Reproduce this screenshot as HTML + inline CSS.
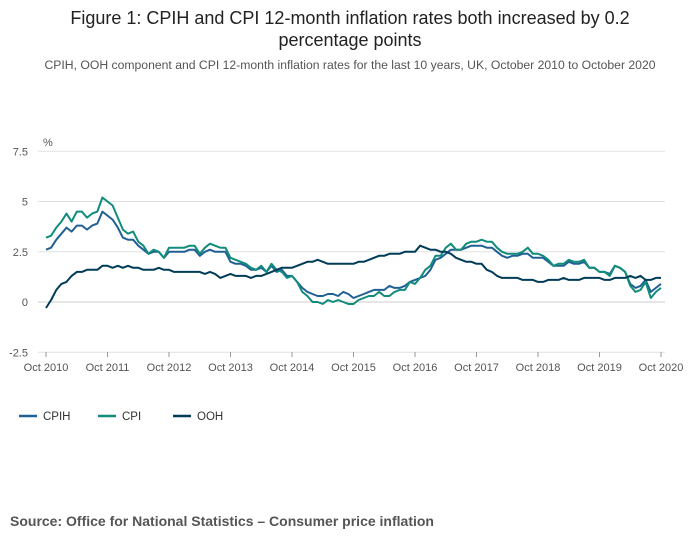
<!DOCTYPE html>
<html><head><meta charset="utf-8"><style>
body{margin:0;background:#fff;font-family:"Liberation Sans",sans-serif;}
svg text{font-family:"Liberation Sans",sans-serif;}
</style></head><body>
<svg width="700" height="549" xmlns="http://www.w3.org/2000/svg">
<text x="350" y="24" text-anchor="middle" font-size="18" fill="#222">Figure 1: CPIH and CPI 12-month inflation rates both increased by 0.2</text>
<text x="350" y="46" text-anchor="middle" font-size="18" fill="#222">percentage points</text>
<text x="350" y="69" text-anchor="middle" font-size="12.2" fill="#555">CPIH, OOH component and CPI 12-month inflation rates for the last 10 years, UK, October 2010 to October 2020</text>
<text x="43" y="146" font-size="11" fill="#555">%</text>
<g id="grid"></g><g id="xax"></g><g id="lines"></g>
<g>
<line x1="19" y1="416" x2="37" y2="416" stroke="#206095" stroke-width="2.5"/>
<text x="43" y="420" font-size="11.5" fill="#333">CPIH</text>
<line x1="98" y1="416" x2="116" y2="416" stroke="#118c7b" stroke-width="2.5"/>
<text x="122" y="420" font-size="11.5" fill="#333">CPI</text>
<line x1="173" y1="416" x2="191" y2="416" stroke="#003c57" stroke-width="2.5"/>
<text x="197" y="420" font-size="11.5" fill="#333">OOH</text>
</g>
<text x="10" y="526" font-size="14" font-weight="bold" fill="#555">Source: Office for National Statistics – Consumer price inflation</text>
</svg>
<script>
const yTicks=[7.5,5,2.5,0,-2.5];
const yTickLabels=["7.5","5","2.5","0","-2.5"];
const xTickLabels=["Oct 2010","Oct 2011","Oct 2012","Oct 2013","Oct 2014","Oct 2015","Oct 2016","Oct 2017","Oct 2018","Oct 2019","Oct 2020"];
const cpih=[2.6,2.7,3.1,3.4,3.7,3.5,3.8,3.8,3.6,3.8,3.9,4.5,4.3,4.1,3.7,3.2,3.1,3.1,2.8,2.6,2.4,2.5,2.5,2.2,2.5,2.5,2.5,2.5,2.6,2.6,2.3,2.5,2.6,2.5,2.5,2.5,2.0,1.9,1.9,1.8,1.6,1.6,1.7,1.5,1.8,1.5,1.6,1.3,1.3,1.0,0.7,0.5,0.4,0.3,0.3,0.4,0.4,0.3,0.5,0.4,0.2,0.3,0.4,0.5,0.6,0.6,0.6,0.8,0.7,0.7,0.8,1.0,1.1,1.2,1.3,1.6,2.1,2.2,2.4,2.6,2.6,2.6,2.7,2.8,2.8,2.8,2.7,2.7,2.5,2.3,2.2,2.3,2.3,2.4,2.4,2.2,2.2,2.2,2.0,1.8,1.8,1.8,2.0,1.9,1.9,2.0,1.7,1.7,1.5,1.5,1.4,1.8,1.7,1.5,0.9,0.7,0.8,1.1,0.5,0.7,0.9];
const cpi=[3.2,3.3,3.7,4.0,4.4,4.0,4.5,4.5,4.2,4.4,4.5,5.2,5.0,4.8,4.2,3.6,3.4,3.5,3.0,2.8,2.4,2.6,2.5,2.2,2.7,2.7,2.7,2.7,2.8,2.8,2.4,2.7,2.9,2.8,2.7,2.7,2.2,2.1,2.0,1.9,1.7,1.6,1.8,1.5,1.9,1.6,1.5,1.2,1.3,1.0,0.5,0.3,0.0,0.0,-0.1,0.1,0.0,0.1,0.0,-0.1,-0.1,0.1,0.2,0.3,0.3,0.5,0.3,0.3,0.5,0.6,0.6,1.0,0.9,1.2,1.6,1.8,2.3,2.3,2.7,2.9,2.6,2.6,2.9,3.0,3.0,3.1,3.0,3.0,2.7,2.5,2.4,2.4,2.4,2.5,2.7,2.4,2.4,2.3,2.1,1.8,1.9,1.9,2.1,2.0,2.0,2.1,1.7,1.7,1.5,1.5,1.3,1.8,1.7,1.5,0.8,0.5,0.6,1.0,0.2,0.5,0.7];
const ooh=[-0.3,0.1,0.6,0.9,1.0,1.3,1.5,1.5,1.6,1.6,1.6,1.8,1.8,1.7,1.8,1.7,1.8,1.7,1.7,1.6,1.6,1.6,1.7,1.6,1.6,1.5,1.5,1.5,1.5,1.5,1.5,1.4,1.5,1.4,1.2,1.3,1.4,1.3,1.3,1.3,1.2,1.3,1.3,1.4,1.5,1.6,1.7,1.7,1.7,1.8,1.9,2.0,2.0,2.1,2.0,1.9,1.9,1.9,1.9,1.9,1.9,2.0,2.0,2.1,2.2,2.3,2.3,2.4,2.4,2.4,2.5,2.5,2.5,2.8,2.7,2.6,2.6,2.5,2.5,2.4,2.2,2.1,2.0,2.0,1.9,1.9,1.6,1.5,1.3,1.2,1.2,1.2,1.2,1.1,1.1,1.1,1.0,1.0,1.1,1.1,1.1,1.2,1.1,1.1,1.1,1.2,1.2,1.2,1.2,1.1,1.1,1.2,1.2,1.2,1.3,1.2,1.3,1.1,1.1,1.2,1.2];
const NS="http://www.w3.org/2000/svg";
const x0=46,x1=661,n=cpih.length;
function xs(i){return x0+(x1-x0)*i/(n-1);}
function ys(v){return 302-v*20.1;}
function mk(tag,attrs,parent){const e=document.createElementNS(NS,tag);for(const k in attrs)e.setAttribute(k,attrs[k]);parent.appendChild(e);return e;}
const grid=document.getElementById('grid');
yTicks.forEach((t,i)=>{
  const l=mk('line',{x1:38,x2:665,y1:ys(t),y2:ys(t),stroke:t===0?'#ccc':'#e2e2e2','stroke-width':1},grid);
  
  
  const tx=mk('text',{x:28,y:ys(t)+4,'text-anchor':'end','font-size':11,fill:'#555'},grid);
  tx.textContent=yTickLabels[i];
  
  
});
const xax=document.getElementById('xax');
xTickLabels.forEach((lab,i)=>{
  const xx=xs(i*12);
  const tk=mk('line',{x1:xx,x2:xx,y1:352,y2:357,stroke:'#999'},xax);
  
  
  const tx=mk('text',{x:xx,y:371,'text-anchor':'middle','font-size':11,fill:'#555'},xax);
  tx.textContent=lab;
  
  
});
const lines=document.getElementById('lines');
[[cpih,'#206095','cpih-line'],[cpi,'#118c7b','cpi-line'],[ooh,'#003c57','ooh-line']].forEach(([d,c,nm])=>{
  const p=mk('path',{d:d.map((v,i)=>(i?'L':'M')+xs(i).toFixed(1)+','+ys(v).toFixed(1)).join(''),fill:'none',stroke:c,'stroke-width':2,'stroke-linejoin':'round'},lines);
  
  
});
</script>
</body></html>
